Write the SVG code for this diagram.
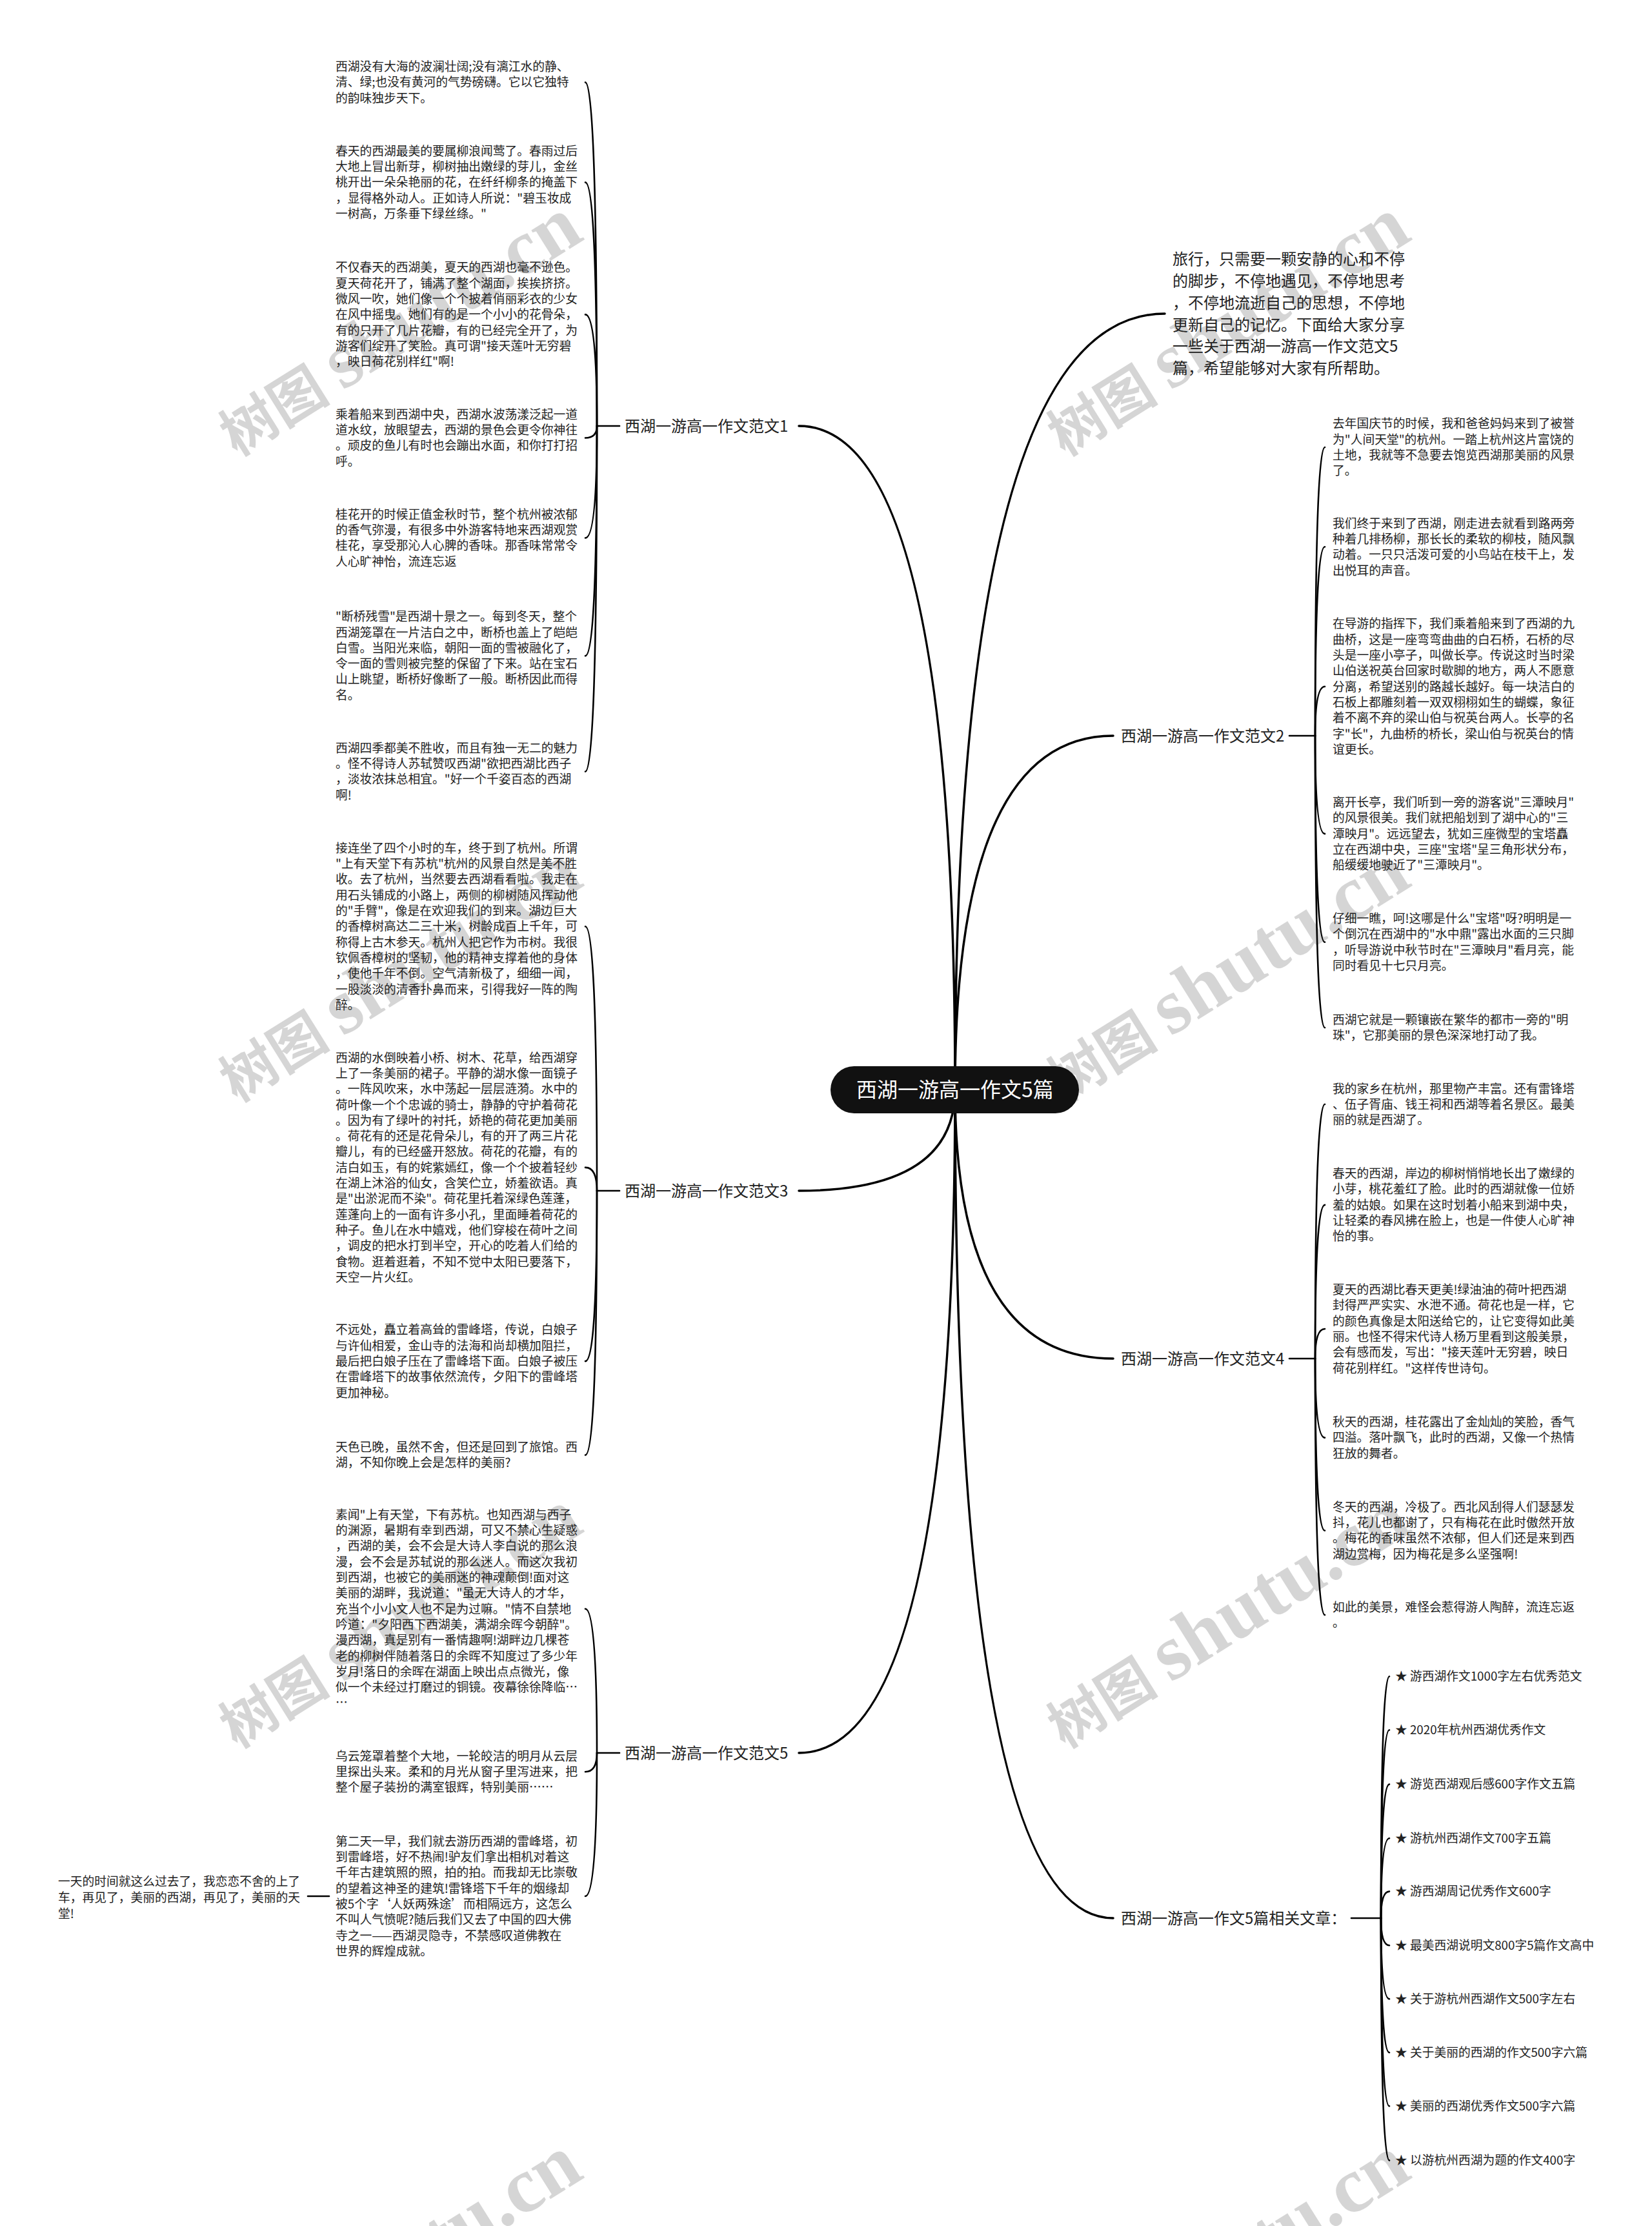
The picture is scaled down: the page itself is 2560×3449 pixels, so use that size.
<svg xmlns="http://www.w3.org/2000/svg" width="2560" height="3449" viewBox="0 0 2560 3449">
<style>
text { font-family: "Noto Sans CJK SC", "Noto Sans", sans-serif; fill: #222; }
.leaf { font-size: 18.75px; }
.branch { font-size: 24px; }
.intro { font-size: 24px; }
.rootText { font-size: 32px; fill: #fff; }
.wm { font-family: "Liberation Serif", "Noto Sans CJK SC", serif; font-weight: bold; font-size: 86px; fill: #000; opacity: 0.16; }
.wm .en { font-size: 122px; }
.main { fill: none; stroke: #000; stroke-width: 3.5; stroke-linecap: round; }
.sub { fill: none; stroke: #000; stroke-width: 2.6; stroke-linecap: round; }
</style>
<rect x="0" y="0" width="2560" height="3449" fill="#fff"/>

<g id="watermarks">
<text class="wm" transform="translate(367,708) rotate(-32)">树图 <tspan class="en">shutu.cn</tspan></text>
<text class="wm" transform="translate(1650,708) rotate(-32)">树图 <tspan class="en">shutu.cn</tspan></text>
<text class="wm" transform="translate(367,1709) rotate(-32)">树图 <tspan class="en">shutu.cn</tspan></text>
<text class="wm" transform="translate(1650,1709) rotate(-32)">树图 <tspan class="en">shutu.cn</tspan></text>
<text class="wm" transform="translate(367,2710) rotate(-32)">树图 <tspan class="en">shutu.cn</tspan></text>
<text class="wm" transform="translate(1650,2710) rotate(-32)">树图 <tspan class="en">shutu.cn</tspan></text>
<text class="wm" transform="translate(367,3711) rotate(-32)">树图 <tspan class="en">shutu.cn</tspan></text>
<text class="wm" transform="translate(1650,3711) rotate(-32)">树图 <tspan class="en">shutu.cn</tspan></text>
</g>

<g id="connectors">
<path class="main" d="M1480,1688 Q1480,660 1238,660"/>
<path class="main" d="M1480,1688 Q1480,1845 1238,1845"/>
<path class="main" d="M1480,1688 Q1480,2716 1238,2716"/>
<path class="main" d="M1480,1688 Q1480,486 1805,486"/>
<path class="main" d="M1480,1688 Q1480,1140 1725,1140"/>
<path class="main" d="M1480,1688 Q1480,2105 1725,2105"/>
<path class="main" d="M1480,1688 Q1480,2972 1725,2972"/>
<path class="sub" d="M925,660 H960"/>
<path class="sub" d="M925,660 Q925,127.6 907,127.6"/>
<path class="sub" d="M925,660 Q925,282.6 907,282.6"/>
<path class="sub" d="M925,660 Q925,487.4 907,487.4"/>
<path class="sub" d="M925,660 Q925,678.5 907,678.5"/>
<path class="sub" d="M925,660 Q925,833.5 907,833.5"/>
<path class="sub" d="M925,660 Q925,1016.2 907,1016.2"/>
<path class="sub" d="M925,660 Q925,1195.5 907,1195.5"/>
<path class="sub" d="M925,1845 H960"/>
<path class="sub" d="M925,1845 Q925,1435.5 907,1435.5"/>
<path class="sub" d="M925,1845 Q925,1808.9 907,1808.9"/>
<path class="sub" d="M925,1845 Q925,2109.1 907,2109.1"/>
<path class="sub" d="M925,1845 Q925,2254.5 907,2254.5"/>
<path class="sub" d="M925,2716 H960"/>
<path class="sub" d="M925,2716 Q925,2492.8 907,2492.8"/>
<path class="sub" d="M925,2716 Q925,2745.3 907,2745.3"/>
<path class="sub" d="M925,2716 Q925,2938 907,2938"/>
<path class="sub" d="M477,2938 H510"/>
<path class="sub" d="M1998,1140 H2038"/>
<path class="sub" d="M2038,1140 Q2038,693 2053,693"/>
<path class="sub" d="M2038,1140 Q2038,847.3 2053,847.3"/>
<path class="sub" d="M2038,1140 Q2038,1063.8 2053,1063.8"/>
<path class="sub" d="M2038,1140 Q2038,1291.9 2053,1291.9"/>
<path class="sub" d="M2038,1140 Q2038,1459.8 2053,1459.8"/>
<path class="sub" d="M2038,1140 Q2038,1592.2 2053,1592.2"/>
<path class="sub" d="M1998,2105 H2038"/>
<path class="sub" d="M2038,2105 Q2038,1711 2053,1711"/>
<path class="sub" d="M2038,2105 Q2038,1866.9 2053,1866.9"/>
<path class="sub" d="M2038,2105 Q2038,2059 2053,2059"/>
<path class="sub" d="M2038,2105 Q2038,2227.6 2053,2227.6"/>
<path class="sub" d="M2038,2105 Q2038,2371.5 2053,2371.5"/>
<path class="sub" d="M2038,2105 Q2038,2502.2 2053,2502.2"/>
<path class="sub" d="M2094,2972 H2140"/>
<path class="sub" d="M2140,2972 Q2140,2597.5 2153,2597.5"/>
<path class="sub" d="M2140,2972 Q2140,2680.5 2153,2680.5"/>
<path class="sub" d="M2140,2972 Q2140,2764.6 2153,2764.6"/>
<path class="sub" d="M2140,2972 Q2140,2848.2 2153,2848.2"/>
<path class="sub" d="M2140,2972 Q2140,2930.6 2153,2930.6"/>
<path class="sub" d="M2140,2972 Q2140,3014.2 2153,3014.2"/>
<path class="sub" d="M2140,2972 Q2140,3097.3 2153,3097.3"/>
<path class="sub" d="M2140,2972 Q2140,3180.3 2153,3180.3"/>
<path class="sub" d="M2140,2972 Q2140,3263.3 2153,3263.3"/>
<path class="sub" d="M2140,2972 Q2140,3347.4 2153,3347.4"/>
</g>

<g id="root">
<rect x="1287" y="1652" width="385" height="73" rx="36.5" fill="#111"/>
<text class="rootText" x="1480" y="1699.5" text-anchor="middle">西湖一游高一作文5篇</text>
</g>

<g id="intro">
<text class="intro" x="1817" y="410.4"><tspan x="1817">旅行，只需要一颗安静的心和不停</tspan><tspan x="1817" dy="33.7">的脚步，不停地遇见，不停地思考</tspan><tspan x="1817" dy="33.7">，不停地流逝自己的思想，不停地</tspan><tspan x="1817" dy="33.7">更新自己的记忆。下面给大家分享</tspan><tspan x="1817" dy="33.7">一些关于西湖一游高一作文范文5</tspan><tspan x="1817" dy="33.7">篇，希望能够对大家有所帮助。</tspan></text>
</g>

<g id="branch1"><text class="branch" x="968" y="668.7">西湖一游高一作文范文1</text></g>
<g id="branch3"><text class="branch" x="968" y="1853.7">西湖一游高一作文范文3</text></g>
<g id="branch5"><text class="branch" x="968" y="2724.7">西湖一游高一作文范文5</text></g>
<g id="branch2"><text class="branch" x="1737" y="1148.7">西湖一游高一作文范文2</text></g>
<g id="branch4"><text class="branch" x="1737" y="2113.7">西湖一游高一作文范文4</text></g>
<g id="related"><text class="branch" x="1737" y="2980.7">西湖一游高一作文5篇相关文章：</text></g>

<g id="leaf1a"><text class="leaf" y="110.1"><tspan x="520">西湖没有大海的波澜壮阔;没有漓江水的静、</tspan><tspan x="520" dy="24.3">清、绿;也没有黄河的气势磅礴。它以它独特</tspan><tspan x="520" dy="24.3">的韵味独步天下。</tspan></text></g>
<g id="leaf1b"><text class="leaf" y="240.8"><tspan x="520">春天的西湖最美的要属柳浪闻莺了。春雨过后</tspan><tspan x="520" dy="24.3">大地上冒出新芽，柳树抽出嫩绿的芽儿，金丝</tspan><tspan x="520" dy="24.3">桃开出一朵朵艳丽的花，在纤纤柳条的掩盖下</tspan><tspan x="520" dy="24.3">，显得格外动人。正如诗人所说："碧玉妆成</tspan><tspan x="520" dy="24.3">一树高，万条垂下绿丝绦。"</tspan></text></g>
<g id="leaf1c"><text class="leaf" y="421.3"><tspan x="520">不仅春天的西湖美，夏天的西湖也毫不逊色。</tspan><tspan x="520" dy="24.3">夏天荷花开了，铺满了整个湖面，挨挨挤挤。</tspan><tspan x="520" dy="24.3">微风一吹，她们像一个个披着俏丽彩衣的少女</tspan><tspan x="520" dy="24.3">在风中摇曳。她们有的是一个小小的花骨朵，</tspan><tspan x="520" dy="24.3">有的只开了几片花瓣，有的已经完全开了，为</tspan><tspan x="520" dy="24.3">游客们绽开了笑脸。真可谓"接天莲叶无穷碧</tspan><tspan x="520" dy="24.3">，映日荷花别样红"啊!</tspan></text></g>
<g id="leaf1d"><text class="leaf" y="648.8"><tspan x="520">乘着船来到西湖中央，西湖水波荡漾泛起一道</tspan><tspan x="520" dy="24.3">道水纹，放眼望去，西湖的景色会更令你神往</tspan><tspan x="520" dy="24.3">。顽皮的鱼儿有时也会蹦出水面，和你打打招</tspan><tspan x="520" dy="24.3">呼。</tspan></text></g>
<g id="leaf1e"><text class="leaf" y="803.8"><tspan x="520">桂花开的时候正值金秋时节，整个杭州被浓郁</tspan><tspan x="520" dy="24.3">的香气弥漫，有很多中外游客特地来西湖观赏</tspan><tspan x="520" dy="24.3">桂花，享受那沁人心脾的香味。那香味常常令</tspan><tspan x="520" dy="24.3">人心旷神怡，流连忘返</tspan></text></g>
<g id="leaf1f"><text class="leaf" y="962.2"><tspan x="520">"断桥残雪"是西湖十景之一。每到冬天，整个</tspan><tspan x="520" dy="24.3">西湖笼罩在一片洁白之中，断桥也盖上了皑皑</tspan><tspan x="520" dy="24.3">白雪。当阳光来临，朝阳一面的雪被融化了，</tspan><tspan x="520" dy="24.3">令一面的雪则被完整的保留了下来。站在宝石</tspan><tspan x="520" dy="24.3">山上眺望，断桥好像断了一般。断桥因此而得</tspan><tspan x="520" dy="24.3">名。</tspan></text></g>
<g id="leaf1g"><text class="leaf" y="1165.8"><tspan x="520">西湖四季都美不胜收，而且有独一无二的魅力</tspan><tspan x="520" dy="24.3">。怪不得诗人苏轼赞叹西湖"欲把西湖比西子</tspan><tspan x="520" dy="24.3">，淡妆浓抹总相宜。"好一个千姿百态的西湖</tspan><tspan x="520" dy="24.3">啊!</tspan></text></g>

<g id="leaf3a"><text class="leaf" y="1320.8"><tspan x="520">接连坐了四个小时的车，终于到了杭州。所谓</tspan><tspan x="520" dy="24.3">"上有天堂下有苏杭"杭州的风景自然是美不胜</tspan><tspan x="520" dy="24.3">收。去了杭州，当然要去西湖看看啦。我走在</tspan><tspan x="520" dy="24.3">用石头铺成的小路上，两侧的柳树随风挥动他</tspan><tspan x="520" dy="24.3">的"手臂"，像是在欢迎我们的到来。湖边巨大</tspan><tspan x="520" dy="24.3">的香樟树高达二三十米，树龄成百上千年，可</tspan><tspan x="520" dy="24.3">称得上古木参天。杭州人把它作为市树。我很</tspan><tspan x="520" dy="24.3">钦佩香樟树的坚韧，他的精神支撑着他的身体</tspan><tspan x="520" dy="24.3">，使他千年不倒。空气清新极了，细细一闻，</tspan><tspan x="520" dy="24.3">一股淡淡的清香扑鼻而来，引得我好一阵的陶</tspan><tspan x="520" dy="24.3">醉。</tspan></text></g>
<g id="leaf3b"><text class="leaf" y="1645.6"><tspan x="520">西湖的水倒映着小桥、树木、花草，给西湖穿</tspan><tspan x="520" dy="24.3">上了一条美丽的裙子。平静的湖水像一面镜子</tspan><tspan x="520" dy="24.3">。一阵风吹来，水中荡起一层层涟漪。水中的</tspan><tspan x="520" dy="24.3">荷叶像一个个忠诚的骑士，静静的守护着荷花</tspan><tspan x="520" dy="24.3">。因为有了绿叶的衬托，娇艳的荷花更加美丽</tspan><tspan x="520" dy="24.3">。荷花有的还是花骨朵儿，有的开了两三片花</tspan><tspan x="520" dy="24.3">瓣儿，有的已经盛开怒放。荷花的花瓣，有的</tspan><tspan x="520" dy="24.3">洁白如玉，有的姹紫嫣红，像一个个披着轻纱</tspan><tspan x="520" dy="24.3">在湖上沐浴的仙女，含笑伫立，娇羞欲语。真</tspan><tspan x="520" dy="24.3">是"出淤泥而不染"。荷花里托着深绿色莲蓬，</tspan><tspan x="520" dy="24.3">莲蓬向上的一面有许多小孔，里面睡着荷花的</tspan><tspan x="520" dy="24.3">种子。鱼儿在水中嬉戏，他们穿梭在荷叶之间</tspan><tspan x="520" dy="24.3">，调皮的把水打到半空，开心的吃着人们给的</tspan><tspan x="520" dy="24.3">食物。逛着逛着，不知不觉中太阳已要落下，</tspan><tspan x="520" dy="24.3">天空一片火红。</tspan></text></g>
<g id="leaf3c"><text class="leaf" y="2067.3"><tspan x="520">不远处，矗立着高耸的雷峰塔，传说，白娘子</tspan><tspan x="520" dy="24.3">与许仙相爱，金山寺的法海和尚却横加阻拦，</tspan><tspan x="520" dy="24.3">最后把白娘子压在了雷峰塔下面。白娘子被压</tspan><tspan x="520" dy="24.3">在雷峰塔下的故事依然流传，夕阳下的雷峰塔</tspan><tspan x="520" dy="24.3">更加神秘。</tspan></text></g>
<g id="leaf3d"><text class="leaf" y="2249.1"><tspan x="520">天色已晚，虽然不舍，但还是回到了旅馆。西</tspan><tspan x="520" dy="24.3">湖，不知你晚上会是怎样的美丽?</tspan></text></g>

<g id="leaf5a"><text class="leaf" y="2353.8"><tspan x="520">素闻"上有天堂，下有苏杭。也知西湖与西子</tspan><tspan x="520" dy="24.3">的渊源，暑期有幸到西湖，可又不禁心生疑惑</tspan><tspan x="520" dy="24.3">，西湖的美，会不会是大诗人李白说的那么浪</tspan><tspan x="520" dy="24.3">漫，会不会是苏轼说的那么迷人。而这次我初</tspan><tspan x="520" dy="24.3">到西湖，也被它的美丽迷的神魂颠倒!面对这</tspan><tspan x="520" dy="24.3">美丽的湖畔，我说道："虽无大诗人的才华，</tspan><tspan x="520" dy="24.3">充当个小小文人也不足为过嘛。"情不自禁地</tspan><tspan x="520" dy="24.3">吟道："夕阳西下西湖美，满湖余晖今朝醉"。</tspan><tspan x="520" dy="24.3">漫西湖，真是别有一番情趣啊!湖畔边几棵苍</tspan><tspan x="520" dy="24.3">老的柳树伴随着落日的余晖不知度过了多少年</tspan><tspan x="520" dy="24.3">岁月!落日的余晖在湖面上映出点点微光，像</tspan><tspan x="520" dy="24.3">似一个未经过打磨过的铜镜。夜幕徐徐降临…</tspan><tspan x="520" dy="24.3">…</tspan></text></g>
<g id="leaf5b"><text class="leaf" y="2727.8"><tspan x="520">乌云笼罩着整个大地，一轮皎洁的明月从云层</tspan><tspan x="520" dy="24.3">里探出头来。柔和的月光从窗子里泻进来，把</tspan><tspan x="520" dy="24.3">整个屋子装扮的满室银辉，特别美丽……</tspan></text></g>
<g id="leaf5c"><text class="leaf" y="2859.8"><tspan x="520">第二天一早，我们就去游历西湖的雷峰塔，初</tspan><tspan x="520" dy="24.3">到雷峰塔，好不热闹!驴友们拿出相机对着这</tspan><tspan x="520" dy="24.3">千年古建筑照的照，拍的拍。而我却无比崇敬</tspan><tspan x="520" dy="24.3">的望着这神圣的建筑!雷锋塔下千年的烟缘却</tspan><tspan x="520" dy="24.3">被5个字‘人妖两殊途’而相隔远方，这怎么</tspan><tspan x="520" dy="24.3">不叫人气愤呢?随后我们又去了中国的四大佛</tspan><tspan x="520" dy="24.3">寺之一——西湖灵隐寺，不禁感叹道佛教在</tspan><tspan x="520" dy="24.3">世界的辉煌成就。</tspan></text></g>
<g id="leaf5c1"><text class="leaf" y="2921.8"><tspan x="90">一天的时间就这么过去了，我恋恋不舍的上了</tspan><tspan x="90" dy="25">车，再见了，美丽的西湖，再见了，美丽的天</tspan><tspan x="90" dy="25">堂!</tspan></text></g>

<g id="leaf2a"><text class="leaf" y="663.3"><tspan x="2065">去年国庆节的时候，我和爸爸妈妈来到了被誉</tspan><tspan x="2065" dy="24.3">为"人间天堂"的杭州。一踏上杭州这片富饶的</tspan><tspan x="2065" dy="24.3">土地，我就等不急要去饱览西湖那美丽的风景</tspan><tspan x="2065" dy="24.3">了。</tspan></text></g>
<g id="leaf2b"><text class="leaf" y="817.6"><tspan x="2065">我们终于来到了西湖，刚走进去就看到路两旁</tspan><tspan x="2065" dy="24.3">种着几排杨柳，那长长的柔软的柳枝，随风飘</tspan><tspan x="2065" dy="24.3">动着。一只只活泼可爱的小鸟站在枝干上，发</tspan><tspan x="2065" dy="24.3">出悦耳的声音。</tspan></text></g>
<g id="leaf2c"><text class="leaf" y="973.4"><tspan x="2065">在导游的指挥下，我们乘着船来到了西湖的九</tspan><tspan x="2065" dy="24.3">曲桥，这是一座弯弯曲曲的白石桥，石桥的尽</tspan><tspan x="2065" dy="24.3">头是一座小亭子，叫做长亭。传说这时当时梁</tspan><tspan x="2065" dy="24.3">山伯送祝英台回家时歇脚的地方，两人不愿意</tspan><tspan x="2065" dy="24.3">分离，希望送别的路越长越好。每一块洁白的</tspan><tspan x="2065" dy="24.3">石板上都雕刻着一双双栩栩如生的蝴蝶，象征</tspan><tspan x="2065" dy="24.3">着不离不弃的梁山伯与祝英台两人。长亭的名</tspan><tspan x="2065" dy="24.3">字"长"，九曲桥的桥长，梁山伯与祝英台的情</tspan><tspan x="2065" dy="24.3">谊更长。</tspan></text></g>
<g id="leaf2d"><text class="leaf" y="1250.1"><tspan x="2065">离开长亭，我们听到一旁的游客说"三潭映月"</tspan><tspan x="2065" dy="24.3">的风景很美。我们就把船划到了湖中心的"三</tspan><tspan x="2065" dy="24.3">潭映月"。远远望去，犹如三座微型的宝塔矗</tspan><tspan x="2065" dy="24.3">立在西湖中央，三座"宝塔"呈三角形状分布，</tspan><tspan x="2065" dy="24.3">船缓缓地驶近了"三潭映月"。</tspan></text></g>
<g id="leaf2e"><text class="leaf" y="1430.1"><tspan x="2065">仔细一瞧，呵!这哪是什么"宝塔"呀?明明是一</tspan><tspan x="2065" dy="24.3">个倒沉在西湖中的"水中鼎"露出水面的三只脚</tspan><tspan x="2065" dy="24.3">，听导游说中秋节时在"三潭映月"看月亮，能</tspan><tspan x="2065" dy="24.3">同时看见十七只月亮。</tspan></text></g>
<g id="leaf2f"><text class="leaf" y="1586.8"><tspan x="2065">西湖它就是一颗镶嵌在繁华的都市一旁的"明</tspan><tspan x="2065" dy="24.3">珠"，它那美丽的景色深深地打动了我。</tspan></text></g>

<g id="leaf4a"><text class="leaf" y="1693.5"><tspan x="2065">我的家乡在杭州，那里物产丰富。还有雷锋塔</tspan><tspan x="2065" dy="24.3">、伍子胥庙、钱王祠和西湖等着名景区。最美</tspan><tspan x="2065" dy="24.3">丽的就是西湖了。</tspan></text></g>
<g id="leaf4b"><text class="leaf" y="1825.1"><tspan x="2065">春天的西湖，岸边的柳树悄悄地长出了嫩绿的</tspan><tspan x="2065" dy="24.3">小芽，桃花羞红了脸。此时的西湖就像一位娇</tspan><tspan x="2065" dy="24.3">羞的姑娘。如果在这时划着小船来到湖中央，</tspan><tspan x="2065" dy="24.3">让轻柔的春风拂在脸上，也是一件使人心旷神</tspan><tspan x="2065" dy="24.3">怡的事。</tspan></text></g>
<g id="leaf4c"><text class="leaf" y="2005.1"><tspan x="2065">夏天的西湖比春天更美!绿油油的荷叶把西湖</tspan><tspan x="2065" dy="24.3">封得严严实实、水泄不通。荷花也是一样，它</tspan><tspan x="2065" dy="24.3">的颜色真像是太阳送给它的，让它变得如此美</tspan><tspan x="2065" dy="24.3">丽。也怪不得宋代诗人杨万里看到这般美景，</tspan><tspan x="2065" dy="24.3">会有感而发，写出："接天莲叶无穷碧，映日</tspan><tspan x="2065" dy="24.3">荷花别样红。"这样传世诗句。</tspan></text></g>
<g id="leaf4d"><text class="leaf" y="2210.1"><tspan x="2065">秋天的西湖，桂花露出了金灿灿的笑脸，香气</tspan><tspan x="2065" dy="24.3">四溢。落叶飘飞，此时的西湖，又像一个热情</tspan><tspan x="2065" dy="24.3">狂放的舞者。</tspan></text></g>
<g id="leaf4e"><text class="leaf" y="2341.8"><tspan x="2065">冬天的西湖，冷极了。西北风刮得人们瑟瑟发</tspan><tspan x="2065" dy="24.3">抖，花儿也都谢了，只有梅花在此时傲然开放</tspan><tspan x="2065" dy="24.3">。梅花的香味虽然不浓郁，但人们还是来到西</tspan><tspan x="2065" dy="24.3">湖边赏梅，因为梅花是多么坚强啊!</tspan></text></g>
<g id="leaf4f"><text class="leaf" y="2496.8"><tspan x="2065">如此的美景，难怪会惹得游人陶醉，流连忘返</tspan><tspan x="2065" dy="24.3">。</tspan></text></g>

<g id="rel1"><text class="leaf" x="2162" y="2604.3">★ 游西湖作文1000字左右优秀范文</text></g>
<g id="rel2"><text class="leaf" x="2162" y="2687.3">★ 2020年杭州西湖优秀作文</text></g>
<g id="rel3"><text class="leaf" x="2162" y="2771.4">★ 游览西湖观后感600字作文五篇</text></g>
<g id="rel4"><text class="leaf" x="2162" y="2855">★ 游杭州西湖作文700字五篇</text></g>
<g id="rel5"><text class="leaf" x="2162" y="2937.4">★ 游西湖周记优秀作文600字</text></g>
<g id="rel6"><text class="leaf" x="2162" y="3021">★ 最美西湖说明文800字5篇作文高中</text></g>
<g id="rel7"><text class="leaf" x="2162" y="3104.1">★ 关于游杭州西湖作文500字左右</text></g>
<g id="rel8"><text class="leaf" x="2162" y="3187.1">★ 关于美丽的西湖的作文500字六篇</text></g>
<g id="rel9"><text class="leaf" x="2162" y="3270.1">★ 美丽的西湖优秀作文500字六篇</text></g>
<g id="rel10"><text class="leaf" x="2162" y="3354.2">★ 以游杭州西湖为题的作文400字</text></g>
</svg>
